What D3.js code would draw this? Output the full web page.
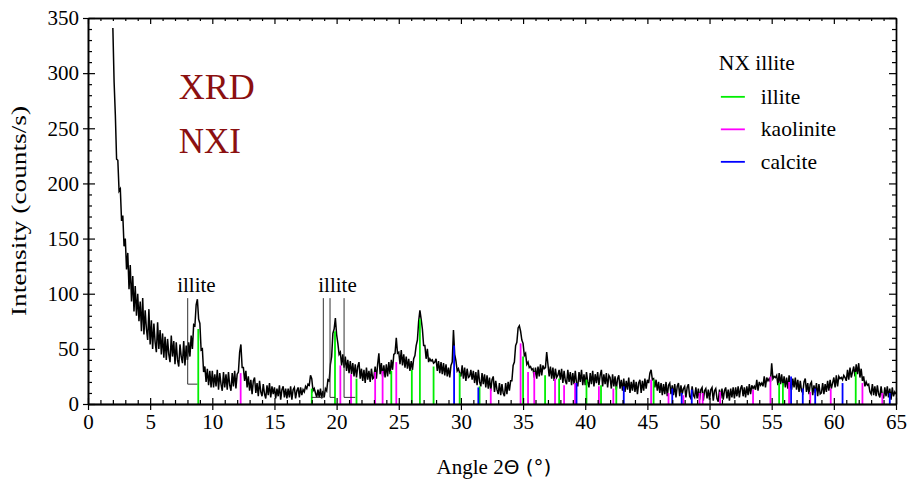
<!DOCTYPE html>
<html>
<head>
<meta charset="utf-8">
<script src="https://cdn.jsdelivr.net/npm/d3@7"></script>
<style>
  body { margin: 0; background: #fff; }
  text { font-family: "Liberation Serif", serif; fill: #000; }
</style>
</head>
<body>
<div class="canvas"></div>
<script>
// measured counts, 2θ = 2.0 .. 65.0 in 0.1° steps
const angleStart = 2.0;
const angleStep = 0.1;
const counts = [
  341, 292, 262, 222, 221, 193, 195, 166, 171, 143,
  150, 122, 137, 104, 126, 93, 116, 84, 107, 80,
  100, 75, 93, 66, 96, 63, 85, 68, 58, 86,
  54, 76, 50, 73, 56, 47, 74, 50, 67, 45,
  64, 42, 61, 40, 59, 45, 38, 62, 43, 57,
  36, 56, 40, 34, 54, 43, 37, 57, 35, 53,
  40, 56, 43, 62, 50, 72, 71, 90, 95, 77,
  73, 49, 50, 29, 34, 20, 32, 17, 30, 15,
  30, 15, 27, 16, 31, 13, 28, 18, 12, 29,
  15, 27, 13, 29, 17, 12, 28, 16, 30, 14,
  27, 29, 47, 54, 33, 33, 21, 30, 15, 25,
  12, 22, 9, 21, 24, 10, 19, 7, 21, 11,
  7, 18, 9, 5, 17, 8, 19, 6, 16, 9,
  15, 5, 14, 7, 17, 4, 13, 16, 6, 14,
  5, 14, 6, 16, 4, 13, 15, 5, 12, 15,
  6, 15, 8, 13, 11, 16, 14, 18, 17, 26,
  23, 12, 14, 10, 6, 13, 6, 14, 5, 12,
  6, 14, 12, 22, 21, 36, 43, 64, 68, 78,
  63, 55, 45, 47, 35, 45, 33, 43, 30, 40,
  28, 39, 27, 37, 25, 36, 24, 34, 38, 23,
  32, 21, 31, 19, 33, 22, 30, 20, 32, 23,
  24, 34, 23, 36, 46, 27, 37, 25, 35, 24,
  36, 25, 38, 27, 40, 31, 45, 46, 60, 46,
  47, 36, 49, 35, 45, 33, 43, 32, 41, 30,
  39, 31, 41, 44, 53, 58, 75, 85, 77, 68,
  53, 53, 41, 50, 38, 41, 39, 40, 37, 38,
  41, 30, 39, 28, 38, 27, 37, 26, 36, 25,
  33, 24, 35, 38, 67, 45, 39, 30, 32, 28,
  25, 35, 23, 33, 21, 32, 24, 25, 31, 22,
  30, 19, 29, 17, 31, 20, 16, 28, 18, 27,
  15, 26, 14, 24, 12, 22, 25, 11, 21, 13,
  9, 19, 8, 18, 10, 7, 19, 9, 20, 12,
  21, 21, 35, 38, 53, 56, 69, 71, 66, 58,
  55, 44, 46, 36, 38, 33, 34, 31, 32, 24,
  33, 23, 34, 25, 36, 26, 35, 32, 33, 47,
  36, 25, 34, 23, 33, 21, 32, 24, 26, 31,
  22, 32, 19, 30, 21, 18, 31, 20, 29, 17,
  28, 18, 30, 19, 16, 29, 20, 31, 17, 27,
  17, 29, 20, 15, 28, 18, 30, 16, 27, 19,
  29, 17, 26, 31, 16, 27, 18, 28, 15, 26,
  24, 14, 27, 16, 25, 13, 23, 26, 14, 22,
  12, 23, 11, 21, 13, 24, 10, 20, 12, 22,
  11, 20, 9, 19, 22, 10, 21, 12, 23, 14,
  22, 19, 28, 31, 22, 23, 15, 22, 12, 20,
  10, 19, 8, 18, 9, 20, 7, 17, 19, 9,
  17, 8, 18, 6, 16, 19, 7, 17, 9, 14,
  16, 6, 15, 18, 7, 5, 16, 8, 6, 15,
  5, 14, 4, 13, 15, 3, 12, 14, 5, 13,
  4, 13, 15, 3, 12, 14, 5, 2, 13, 5,
  14, 4, 12, 15, 5, 13, 3, 14, 6, 15,
  5, 15, 7, 16, 6, 14, 17, 7, 15, 6,
  16, 8, 18, 9, 17, 14, 16, 13, 22, 12,
  20, 17, 19, 16, 25, 15, 24, 21, 23, 20,
  37, 23, 25, 24, 26, 17, 28, 18, 27, 16,
  25, 15, 24, 14, 26, 16, 13, 23, 15, 24,
  13, 22, 11, 21, 12, 10, 20, 23, 11, 19,
  9, 18, 20, 8, 17, 10, 19, 7, 18, 9,
  10, 19, 9, 18, 11, 21, 12, 22, 14, 19,
  24, 15, 26, 16, 25, 23, 24, 22, 26, 24,
  21, 31, 22, 33, 24, 29, 34, 25, 36, 27,
  37, 24, 32, 21, 25, 16, 20, 17, 18, 11,
  9, 18, 8, 16, 7, 17, 9, 6, 16, 8,
  5, 15, 7, 16, 6, 14, 4, 15, 7, 11,
  9
];

// reference patterns (stick positions and heights)
const illiteAngles = [8.87, 18.0, 19.87, 21.6, 24.4, 26.05, 26.7, 27.8, 29.9, 31.5, 35.0, 36.77, 37.9, 40.1, 41.27, 42.5, 45.5, 55.6, 55.9, 61.76];
const illiteHeights = [68, 14, 66, 23, 30, 31, 77, 34, 28, 16, 43, 26, 23, 22, 17, 16, 22, 19, 19, 29];

const kaoliniteAngles = [12.28, 20.3, 21.16, 23.1, 23.7, 24.8, 32.4, 34.8, 35.4, 35.9, 37.57, 38.3, 39.18, 41.1, 42.26, 45.3, 46.7, 47.9, 49.2, 49.45, 50.85, 53.5, 54.9, 56.4, 58.1, 59.75, 62.3, 63.9];
const kaoliniteHeights = [28, 35, 27, 29, 30, 38, 14, 55, 29, 29, 23, 17, 19, 16, 14, 22, 10, 8, 10, 10, 11, 13, 25, 20, 11, 14, 19, 10];

const calciteAngles = [29.45, 31.4, 39.3, 43.1, 47.0, 47.76, 48.57, 56.56, 57.5, 58.5, 60.7, 64.5];
const calciteHeights = [53, 15, 19, 16, 14, 10, 13, 25, 14, 14, 19, 10];

const phaseNames = ["illite", "kaolinite", "calcite"];
const phaseColors = ["#00ee00", "#ff00ff", "#0000ff"];

// peak labels with leader lines
const leaderLines = [
  [[8.02, 96], [8.02, 18], [8.8, 18]],
  [[18.93, 96], [18.93, 6], [18.0, 6]],
  [[19.47, 96], [19.47, 6], [19.87, 6]],
  [[20.6, 96], [20.6, 6], [21.5, 6]]
];
const peakLabels = ["illite", "illite"];
const peakLabelAngles = [8.72, 20.07];

const xTicks = [0, 5, 10, 15, 20, 25, 30, 35, 40, 45, 50, 55, 60, 65];
const yTicks = [0, 50, 100, 150, 200, 250, 300, 350];

const margin = { top: 18, right: 13, bottom: 82, left: 88 };
const width = 909 - margin.left - margin.right;
const height = 486 - margin.top - margin.bottom;

const svg = d3
  .select(".canvas")
  .append("svg")
  .attr("width", width + margin.left + margin.right)
  .attr("height", height + margin.top + margin.bottom)
  .append("g")
  .attr("transform", `translate(${margin.left},${margin.top})`);

const x = d3.scaleLinear().domain([0, 65]).range([0, width]);
const y = d3.scaleLinear().domain([0, 350]).range([height, 0]);

const xMinor = d3.range(0, 66, 1).filter((d) => d % 5 !== 0);
const yMinor = d3.range(0, 351, 10).filter((d) => d % 50 !== 0);

// measured pattern
const data = counts.map((c, i) => ({ angle: angleStart + i * angleStep, count: c }));

const line = d3
  .line()
  .x((d) => x(d.angle))
  .y((d) => y(d.count));

svg
  .append("path")
  .datum(data)
  .attr("d", line)
  .attr("fill", "none")
  .attr("stroke", "#000")
  .attr("stroke-width", 1.5);

// reference sticks
const phases = [
  { angles: illiteAngles, heights: illiteHeights },
  { angles: kaoliniteAngles, heights: kaoliniteHeights },
  { angles: calciteAngles, heights: calciteHeights }
];

phases.forEach((p, k) => {
  svg
    .append("g")
    .selectAll("line")
    .data(p.angles.map((a, i) => ({ angle: a, h: p.heights[i] })))
    .join("line")
    .attr("x1", (d) => x(d.angle))
    .attr("x2", (d) => x(d.angle))
    .attr("y1", y(0))
    .attr("y2", (d) => y(d.h))
    .attr("stroke", phaseColors[k])
    .attr("stroke-width", 1.8);
});

// leader lines + labels
const leader = d3
  .line()
  .x((d) => x(d[0]))
  .y((d) => y(d[1]));

svg
  .append("g")
  .selectAll("path")
  .data(leaderLines)
  .join("path")
  .attr("d", leader)
  .attr("fill", "none")
  .attr("stroke", "#333")
  .attr("stroke-width", 1);

svg
  .append("g")
  .selectAll("text")
  .data(peakLabels)
  .join("text")
  .attr("x", (d, i) => x(peakLabelAngles[i]))
  .attr("y", y(102))
  .attr("text-anchor", "middle")
  .style("font-size", "21px")
  .text((d) => d);

// axes
function styleAxis(g) {
  g.select(".domain").attr("stroke", "#000").attr("stroke-width", 1.4);
  g.selectAll(".tick line").attr("stroke", "#000").attr("stroke-width", 1.2);
  g.selectAll(".tick text")
    .style("font-family", "'Liberation Serif', serif")
    .style("font-size", "21px")
    .attr("fill", "#000");
}

const bottomAxis = svg.append("g").attr("transform", `translate(0,${height})`);
bottomAxis
  .call(d3.axisBottom(x).tickValues(xTicks).tickSize(6).tickSizeOuter(0).tickPadding(4))
  .call(styleAxis);
bottomAxis.append("g").call(d3.axisBottom(x).tickValues(xTicks).tickSize(-6).tickSizeOuter(0).tickFormat("")).call(styleAxis);
bottomAxis.append("g").call(d3.axisBottom(x).tickValues(xMinor).tickSize(-4).tickSizeOuter(0).tickFormat("")).call(styleAxis);

const topAxis = svg.append("g");
topAxis.call(d3.axisTop(x).tickValues(xTicks).tickSize(-6).tickSizeOuter(0).tickFormat("")).call(styleAxis);
topAxis.append("g").call(d3.axisTop(x).tickValues(xMinor).tickSize(-3).tickSizeOuter(0).tickFormat("")).call(styleAxis);

const leftAxis = svg.append("g");
leftAxis
  .call(d3.axisLeft(y).tickValues(yTicks).tickSize(5).tickSizeOuter(0).tickPadding(4))
  .call(styleAxis);
leftAxis.append("g").call(d3.axisLeft(y).tickValues(yTicks).tickSize(-7).tickSizeOuter(0).tickFormat("")).call(styleAxis);
leftAxis.append("g").call(d3.axisLeft(y).tickValues(yMinor).tickSize(-4).tickSizeOuter(0).tickFormat("")).call(styleAxis);

const rightAxis = svg.append("g").attr("transform", `translate(${width},0)`);
rightAxis.call(d3.axisRight(y).tickValues(yTicks).tickSize(-7).tickSizeOuter(0).tickFormat("")).call(styleAxis);
rightAxis.append("g").call(d3.axisRight(y).tickValues(yMinor).tickSize(-4).tickSizeOuter(0).tickFormat("")).call(styleAxis);

// axis titles
const xTitle = svg
  .append("text")
  .attr("x", width / 2 + 2)
  .attr("y", height + 70)
  .attr("text-anchor", "middle")
  .style("font-size", "21px");
xTitle.append("tspan").text("Angle 2");
xTitle.append("tspan").style("font-family", "'DejaVu Sans', sans-serif").style("font-size", "20px").text("Θ (°)");

svg
  .append("text")
  .attr("transform", `translate(${-62},${height / 2}) rotate(-90)`)
  .attr("text-anchor", "middle")
  .attr("textLength", 210)
  .attr("lengthAdjust", "spacingAndGlyphs")
  .style("font-size", "21px")
  .text("Intensity (counts/s)");

// big labels
svg
  .append("text")
  .attr("x", x(7.3))
  .attr("y", y(277))
  .style("font-size", "36px")
  .style("fill", "#8b1010")
  .text("XRD");
svg
  .append("text")
  .attr("x", x(7.3))
  .attr("y", y(228))
  .style("font-size", "35px")
  .style("fill", "#8b1010")
  .text("NXI");

// legend
const legend = svg.append("g").attr("transform", `translate(${x(50.75)},${y(303)})`);
legend.append("text").attr("x", 0).attr("y", 0).style("font-size", "21.5px").text("NX illite");
phaseNames.forEach((name, i) => {
  const ly = 27 + i * 32.5;
  legend
    .append("line")
    .attr("x1", 2)
    .attr("x2", 26)
    .attr("y1", ly)
    .attr("y2", ly)
    .attr("stroke", phaseColors[i])
    .attr("stroke-width", 1.8);
  legend
    .append("text")
    .attr("x", 42)
    .attr("y", ly + 7)
    .style("font-size", "21.5px")
    .text(name);
});
</script>
</body>
</html>
